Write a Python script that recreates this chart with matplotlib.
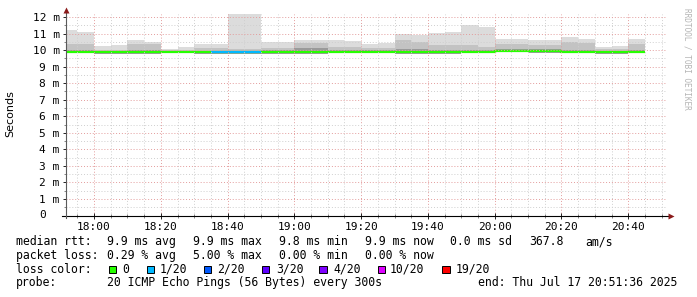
import matplotlib
matplotlib.use("Agg")
import matplotlib.pyplot as plt
from matplotlib.lines import Line2D
from matplotlib.patches import Rectangle

# ---------------- data ----------------
start_time = "17:51:36"
end_time = "20:51:36"
interval_ends = ["17:55", "18:00", "18:05", "18:10", "18:15", "18:20", "18:25",
                 "18:30", "18:35", "18:40", "18:45", "18:50", "18:55", "19:00",
                 "19:05", "19:10", "19:15", "19:20", "19:25", "19:30", "19:35",
                 "19:40", "19:45", "19:50", "19:55", "20:00", "20:05", "20:10",
                 "20:15", "20:20", "20:25", "20:30", "20:35", "20:40", "20:45"]
# smoke envelope (ms)
rtt_max = [11.23, 11.07, 10.22, 10.28, 10.62, 10.52, 10.06, 10.16, 10.34, 10.34,
           12.16, 12.16, 10.50, 10.50, 10.62, 10.60, 10.62, 10.56, 10.34, 10.42,
           10.97, 10.94, 11.03, 11.07, 11.49, 11.41, 10.68, 10.68, 10.62, 10.60,
           10.80, 10.70, 10.18, 10.24, 10.65]
rtt_upper = [10.35, 10.35, 10.00, 10.00, 10.40, 10.35, 9.98, 10.00, 10.10, 10.10,
             10.05, 10.05, 10.10, 10.10, 10.45, 10.45, 10.20, 10.20, 10.10, 10.15,
             10.62, 10.50, 10.30, 10.30, 10.30, 10.20, 10.38, 10.38, 10.33, 10.30,
             10.47, 10.43, 10.05, 10.05, 10.37]
rtt_inner = [10.00, 10.00, 9.95, 9.95, 10.02, 10.00, 9.94, 9.95, 9.96, 9.96,
             9.95, 9.95, 9.98, 9.98, 10.12, 10.12, 10.00, 10.00, 9.98, 9.98,
             10.05, 10.05, 9.98, 9.98, 10.00, 10.00, 10.05, 10.05, 10.08, 10.05,
             10.00, 10.00, 9.97, 9.97, 10.00]
rtt_min = [9.80, 9.80, 9.79, 9.79, 9.79, 9.79, 9.80, 9.80, 9.79, 9.78,
           9.78, 9.78, 9.79, 9.79, 9.78, 9.78, 9.80, 9.80, 9.80, 9.80,
           9.79, 9.79, 9.76, 9.76, 9.80, 9.80, 9.86, 9.86, 9.82, 9.82,
           9.80, 9.80, 9.79, 9.79, 9.80]
rtt_median = [9.90, 9.90, 9.88, 9.88, 9.88, 9.88, 9.88, 9.88, 9.88, 9.87,
              9.87, 9.87, 9.88, 9.88, 9.90, 9.90, 9.90, 9.90, 9.90, 9.90,
              9.90, 9.90, 9.88, 9.88, 9.90, 9.90, 9.97, 9.97, 9.92, 9.92,
              9.90, 9.90, 9.88, 9.88, 9.90]
loss_count = [0, 0, 0, 0, 0, 0, 0, 0, 0, 1,
              1, 1, 0, 0, 0, 0, 0, 0, 0, 0,
              0, 0, 0, 0, 0, 0, 0, 0, 0, 0,
              0, 0, 0, 0, 0]

loss_levels = [0, 1, 2, 3, 4, 10, 19]
loss_labels = ["0", "1/20", "2/20", "3/20", "4/20", "10/20", "19/20"]
loss_colors = ["#26ff00", "#00b8ff", "#0059ff", "#5e00ff", "#7e00ff", "#dd00ff", "#ff0000"]

x_tick_labels = ["18:00", "18:20", "18:40", "19:00", "19:20", "19:40", "20:00", "20:20", "20:40"]
y_tick_values = list(range(0, 13))
y_tick_labels = [""] + ["%d m" % v for v in range(1, 13)]

legend_rows = [
    [(16.7, "median rtt:"), (107.3, "9.9 ms avg"), (193.3, "9.9 ms max"),
     (279.3, "9.8 ms min"), (366.0, "9.9 ms now"), (451.0, "0.0 ms sd"),
     (530.0, "367.8"), (586.0, "am/s")],
    [(16.7, "packet loss:"), (107.3, "0.29 % avg"), (193.3, "5.00 % max"),
     (279.3, "0.00 % min"), (366.0, "0.00 % now")],
    [(16.7, "loss color:")],
    [(16.7, "probe:"), (107.3, "20 ICMP Echo Pings (56 Bytes) every 300s"),
     (478.3, "end: Thu Jul 17 20:51:36 2025")],
]

# ---------------- helpers ----------------
def to_min(s):
    parts = [int(p) for p in s.split(":")]
    while len(parts) < 3:
        parts.append(0)
    return parts[0] * 60 + parts[1] + parts[2] / 60.0

t0 = to_min(start_time)
edges = [0.0] + [to_min(t) - t0 for t in interval_ends]
x_end = to_min(end_time) - t0

W, H = 697, 297
fig = plt.figure(figsize=(W / 100, H / 100), dpi=100)
fig.patch.set_facecolor("white")

ax_left, ax_right, ax_bottom, ax_top = 66, 667, 215.5, 14.4
ax = fig.add_axes([ax_left / W, (H - ax_bottom) / H,
                   (ax_right - ax_left) / W, (ax_bottom - ax_top) / H])
ax.set_xlim(0, x_end)
ax.set_ylim(0, 12.16)
for s in ax.spines.values():
    s.set_visible(False)

# smoke
ax.stairs(rtt_max, edges, baseline=rtt_min, fill=True, color="#dcdcdc", lw=0, zorder=1)
ax.stairs(rtt_upper, edges, baseline=rtt_min, fill=True, color="#c3c3c3", lw=0, zorder=1.1)
ax.stairs(rtt_inner, edges, baseline=rtt_min, fill=True, color="#9a9a9a", lw=0, zorder=1.2)

# median line coloured by loss
ax.stairs(rtt_median, edges, baseline=None, color=loss_colors[0], lw=1.6, zorder=2)
for i, lc in enumerate(loss_count):
    if lc != 0:
        col = loss_colors[loss_levels.index(lc)]
        ax.hlines(rtt_median[i], edges[i], edges[i + 1], color=col, lw=1.6, zorder=2.05)

# ticks & grid
major_x = [to_min(l) - t0 for l in x_tick_labels]
minor_x = [to_min("17:55") - t0 + 5 * k for k in range(36)]
minor_x = [m for m in minor_x if m <= x_end]
ax.set_xticks(major_x)
ax.set_xticklabels(x_tick_labels)
ax.set_xticks(minor_x, minor=True)
ax.set_yticks(y_tick_values)
ax.set_yticklabels(y_tick_labels)
ax.set_yticks([v + 0.5 for v in range(0, 12)], minor=True)

mono = "DejaVu Sans Mono"
for lab in ax.get_xticklabels() + ax.get_yticklabels():
    lab.set_fontfamily(mono)
    lab.set_fontsize(8)
    lab.set_color("#000000")
ax.tick_params(axis="x", which="major", direction="inout", length=4, width=0.6,
               pad=2.6, colors="#000000")
ax.tick_params(axis="x", which="minor", direction="inout", length=2.5, width=0.5,
               colors="#555555")
ax.tick_params(axis="y", which="major", direction="out", length=2, width=0.6,
               pad=2.6, colors="#000000")
ax.tick_params(axis="y", which="minor", direction="out", length=1.2, width=0.5,
               colors="#555555")

ax.set_axisbelow(False)
dot = (0, (1, 2))
ax.grid(True, which="major", color="#e39c9c", linestyle=dot, lw=0.7)
ax.grid(True, which="minor", color="#cfcfcf", linestyle=dot, lw=0.7)

# the "0" label sits left of the other labels
ax.annotate("0", xy=(0, 0), xycoords=("axes fraction", "data"),
            xytext=(-14.4, 0), textcoords="offset points",
            ha="right", va="center", fontfamily=mono, fontsize=8)

# axes lines with arrows
ax.add_line(Line2D([-0.007, 1.003], [0, 0], transform=ax.transAxes, color="#000000",
                   lw=0.8, clip_on=False, zorder=5))
ax.add_line(Line2D([0, 0], [-0.012, 1.01], transform=ax.transAxes, color="#5a5a5a",
                   lw=0.8, clip_on=False, zorder=5))
ax.plot([1.006], [0], marker=">", ms=4, color="#8b1a1a", transform=ax.transAxes,
        clip_on=False, zorder=6, mec="none")
ax.plot([0], [1.02], marker="^", ms=4, color="#8b1a1a", transform=ax.transAxes,
        clip_on=False, zorder=6, mec="none")

# y label
fig.text(10.5 / W, 1 - 113.5 / H, "Seconds", rotation=90, ha="center", va="center",
         fontsize=8, fontfamily="DejaVu Sans", color="#000000")
# watermark
fig.text(687 / W, 1 - 59 / H, "RRDTOOL / TOBI OETIKER", rotation=270, ha="center",
         va="center", fontsize=5.6, fontfamily=mono, color="#b4b4b4")

# legend
row_y = [245.3, 259.0, 272.7, 286.4]
for ry, row in zip(row_y, legend_rows):
    for x, txt in row:
        fig.text((x - 0.7) / W, 1 - ry / H, txt, ha="left", va="baseline",
                 fontsize=8.3, fontfamily=mono, color="#000000")

box_x = [108.7, 146.7, 204.0, 262.0, 319.3, 377.7, 442.3]
lab_x = [123.3, 160.7, 218.3, 276.7, 334.3, 390.0, 456.7]
for bx, lx, col, lab in zip(box_x, lab_x, loss_colors, loss_labels):
    fig.patches.append(Rectangle((bx / W, 1 - 273.3 / H), 7.3 / W, 7.3 / H,
                                 transform=fig.transFigure, facecolor=col,
                                 edgecolor="#000000", lw=0.7))
    fig.text((lx - 0.7) / W, 1 - row_y[2] / H, lab, ha="left", va="baseline",
             fontsize=8.3, fontfamily=mono, color="#000000")

fig.savefig("out.png", dpi=100, facecolor="white")
